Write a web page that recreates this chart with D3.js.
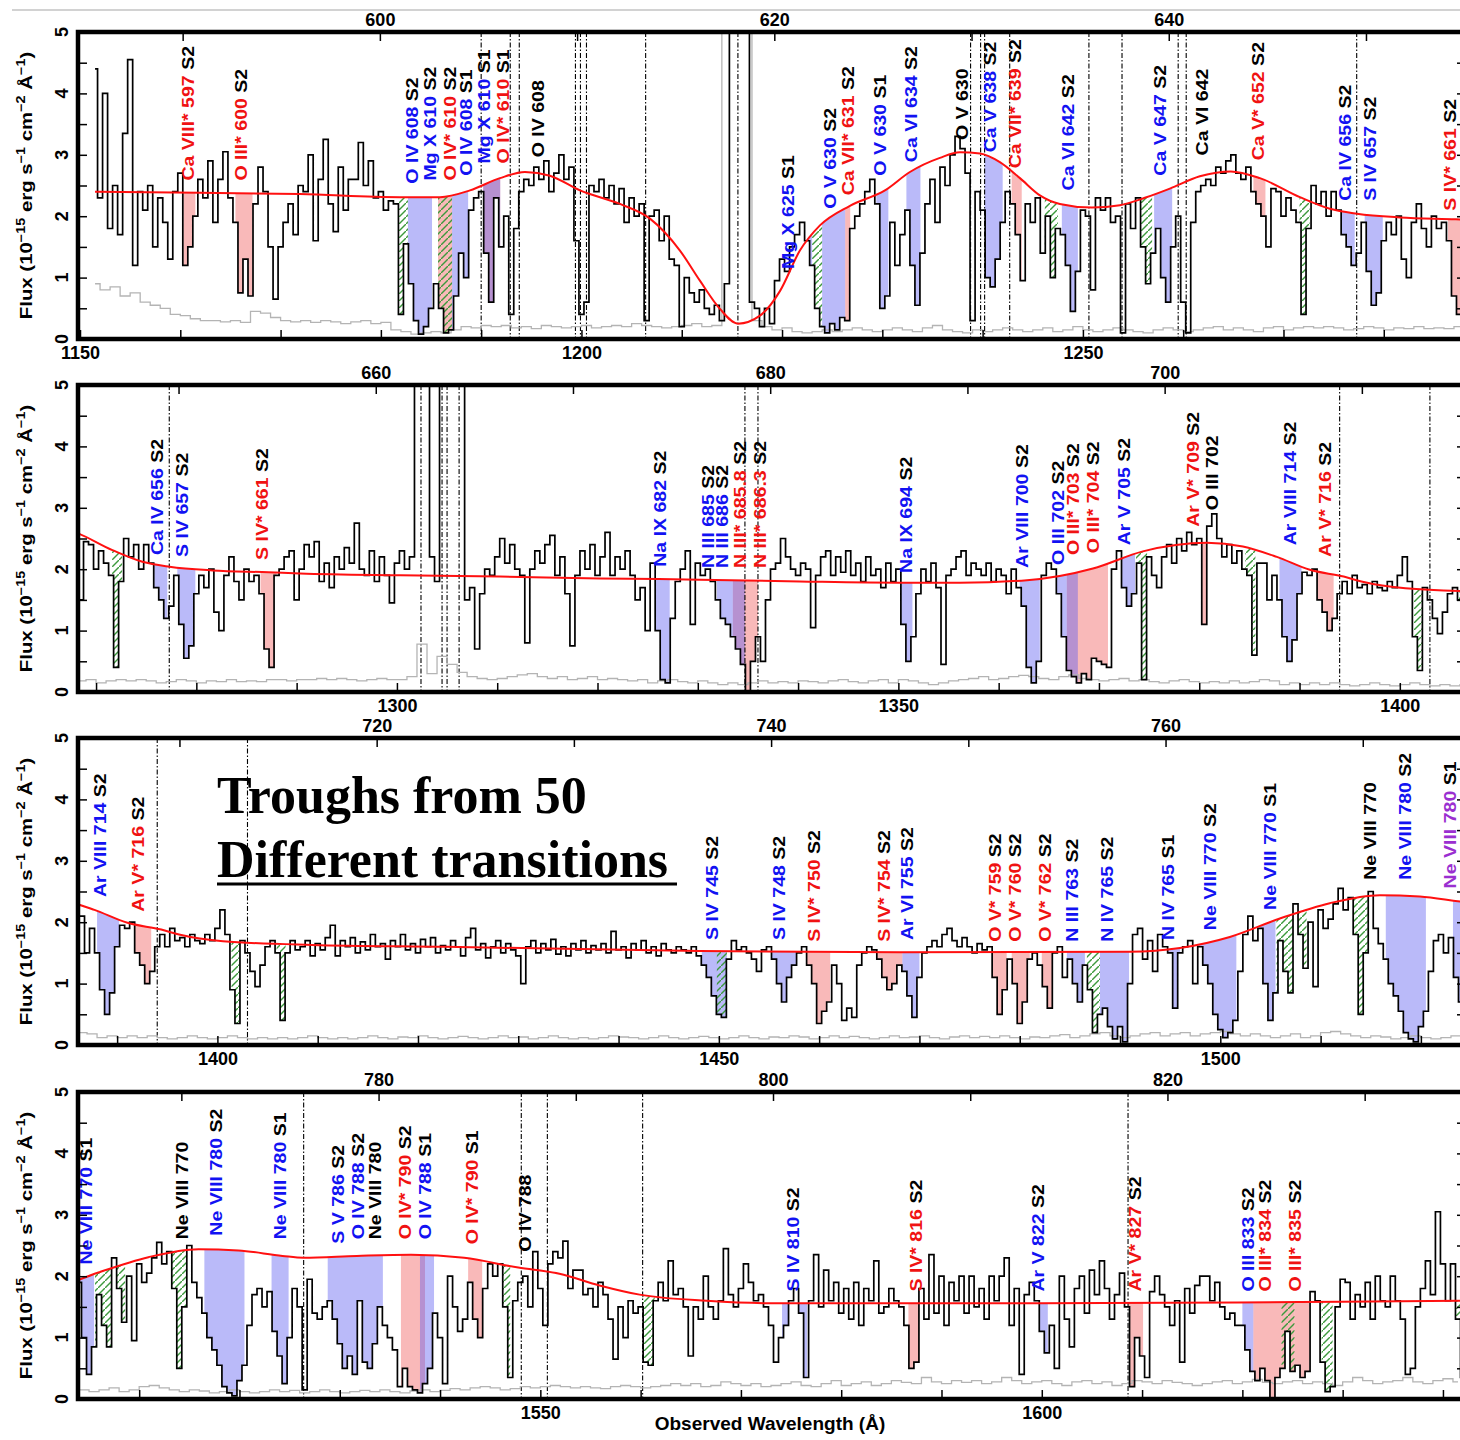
<!DOCTYPE html>
<html>
<head>
<meta charset="utf-8">
<title>Troughs from 50 different transitions</title>
<script src="https://cdn.jsdelivr.net/npm/d3@7"></script>
<style>
  body { margin: 0; background: #fff; }
  svg text { font-family: "Liberation Sans", Arial, sans-serif; }
</style>
</head>
<body>
<div id="chart"></div>
<script>
// 1+z, used for the rest-frame axis on top of each strip
const onePlusZ = 1.9665;

// observed window of the four strips (Angstrom)
const panelStart = [1149.8, 1268.2, 1386.1, 1503.9];
const panelSpan = 138;

// flux (1e-15 erg/s/cm2/A) on a 0.5 A grid from 1151.5 A
const fluxStart = 1151.5;
const fluxStep = 0.5;
const flux = [
  // strip 1
  4.4,2.3,4.0,1.8,2.5,1.7,3.35,4.55,1.2,2.4,2.1,2.5,1.5,2.3,1.9,1.3,2.4,
  2.7,1.2,1.5,2.0,2.6, 2.3,2.9,1.9,2.6,3.05,2.3, 1.9,0.75,1.3,0.7,2.2,
  2.8,2.4,1.5,0.65,1.5,1.9,2.2,1.7,2.5, 2.4,3.0,1.6,2.6,3.25,2.2,1.75,2.8,2.1,2.6,
  2.6,3.2,2.5,2.9,2.3,2.4,2.1,2.25,2.2,
  0.4,1.55,0.9,0.3,0.08,0.2,0.5,0.9,0.5,0.1,0.15,0.7,1.4,1.0,2.1,
  2.3,2.4,1.4,0.6,2.3,1.5,2.0,0.4,1.8,2.4,2.6,2.5,2.8,
  2.6,2.9,2.4,2.7,3.0,2.6,2.8,1.6,0.4,0.6,2.5,2.4,2.6,2.3,2.5,2.2,2.45,1.9,2.3,2.0,2.2,
  0.3,2.0,2.1,1.6,2.0,1.3,1.2,0.2,1.0,0.75,0.6,0.8,0.5,0.4,0.55,0.3,0.9,9,9,
  9,9,0.6,0.5,0.2,0.5,0.25,0.95,1.3,1.1,1.5,1.7,
  1.9,1.6,1.2,0.5,0.2,0.1,0.25,0.15,0.35,0.3,1.8,
  2.0,2.2,2.4,2.6,2.2,0.5,0.7,1.9,1.2,1.7,
  2.1,1.2,0.55,1.4,2.2,2.6,1.9,2.8,2.5,3.0,
  3.3,3.1,2.7,0.3,2.4,2.1,1.0,0.85,1.3,1.9,
  2.4,2.2,1.7,0.95,2.2,1.9,2.3,1.4,2.0,1.0,
  1.8,1.7,1.2,0.45,1.1,2.1,2.0,0.8,2.3,2.1,
  2.3,1.9,2.0,0.1,2.2,1.8,2.3,1.5,0.9,1.4,
  1.8,1.0,0.6,1.5,2.0,0.6,0.1,1.9,2.4,2.5,
  2.6,2.5,2.8,2.7,2.9,3.0,2.7,2.6,2.8,2.4,
  2.2,
  // overlap of strips 1 and 2
  2.0,1.5,2.45,2.4,2.0,2.3,2.1,1.9,0.4,1.8,
  2.5,2.2,2.4,2.0,2.4,2.1,1.7,1.5,1.2,1.4,
  1.9,1.1,0.55,0.75,1.6,1.9,1.7,2.0,1.3,1.0,
  1.9,2.2,1.8,1.5,2.0,1.8,1.9,1.6,0.7,0.4,
  1.9,
  // strip 2
  2.0,2.2,2.3,1.5,2.0,2.4,2.2,2.45,1.8,2.1,
  1.7,2.2,2.0,2.35,2.1,2.75,2.0,1.9,2.3,1.8,
  2.2,1.9,1.45,2.1,2.3,2.0,2.2,9,9,9,
  2.2,1.8,9,9,9,9,9,1.5,1.7,0.7,
  1.6,2.0,1.9,2.2,
  2.5,2.1,2.4,2.0,1.9,0.8,2.0,2.3,2.1,2.4,
  2.55,1.9,2.2,1.6,0.75,1.9,2.3,2.0,2.4,1.9,
  2.2,2.6,1.9,2.2,2.0,2.3,1.9,1.5,1.7,1.0,
  2.1,1.0,0.2,0.15,1.2,1.8,2.0,2.3,1.1,2.1,
  1.9,2.0,1.8,1.5,1.2,1.1,0.9,0.7,0.45,0.02,
  0.5,0.9,0.5,1.5,2.0,2.1,2.5,2.2,2.0,1.9,
  2.1,2.0,1.05,1.9,2.2,2.3,1.9,2.2,1.95,2.3,
  1.9,2.1,1.8,2.2,1.9,2.0,1.7,2.1,1.8,2.0,
  1.1,0.5,0.9,1.6,2.0,1.8,2.1,1.7,0.45,1.9,
  2.0,2.2,2.3,1.9,2.1,2.0,1.9,2.1,1.8,2.0,
  1.9,1.6,2.0,1.7,1.4,0.4,0.15,0.5,1.9,2.1,
  2.0,1.6,0.9,0.35,0.25,0.15,0.3,0.2,0.55,0.5,
  0.45,0.4,2.0,2.3,1.7,1.4,1.6,2.1,0.2,2.2,
  1.9,1.7,2.2,2.4,2.1,2.5,2.3,2.6,2.4,2.5,
  1.1,2.7,2.9,2.5,2.2,2.4,2.1,2.3,2.0,1.9,
  0.6,2.1,
  // strip 3
  2.1,1.5,1.9,1.5,0.9,0.5,0.85,1.6,1.95,1.9,
  2.0,1.5,1.3,1.0,1.2,1.6,1.8,1.6,1.9,1.7,
  1.75,1.6,1.8,1.7,1.65,1.8,1.7,1.9,2.2,1.8,
  0.9,0.35,1.7,1.5,1.2,0.95,1.3,1.6,1.7,1.5,
  0.4,1.5,1.7,1.55,1.6,1.7,1.45,1.65,1.55,1.75,
  1.95,1.45,1.7,1.6,1.75,1.5,1.68,1.55,1.8,1.6,
  1.65,1.4,1.7,1.6,1.8,1.55,1.65,1.5,1.72,1.6,
  1.75,1.5,1.62,1.55,1.7,1.6,1.45,1.75,1.9,1.55,
  1.65,1.42,1.6,1.7,1.5,1.65,1.55,1.45,1.0,1.6,
  1.7,1.5,1.65,1.55,1.72,1.48,1.6,1.45,1.65,1.55,
  1.7,1.5,1.62,1.55,1.65,1.5,1.85,1.55,1.6,1.42,
  1.65,1.55,1.7,1.5,1.6,1.45,1.65,1.55,1.5,1.6,
  1.55,1.5,1.6,1.45,1.3,1.1,0.8,0.5,0.45,1.4,
  1.7,1.55,1.6,1.5,1.4,1.2,1.55,1.6,1.4,1.0,
  0.7,1.1,1.3,1.5,1.6,1.3,1.0,0.35,0.55,0.7,
  1.3,1.0,0.4,0.6,0.45,1.3,1.5,1.6,1.55,1.4,
  1.1,0.9,1.0,1.3,1.2,0.8,0.45,1.1,1.5,1.6,
  1.7,1.6,1.8,1.9,1.7,1.6,1.75,1.6,1.5,1.65,
  1.55,1.6,1.1,0.5,0.9,1.4,1.0,0.35,0.7,1.4,
  1.5,1.3,0.95,0.6,1.5,1.6,1.1,1.4,1.0,0.7,
  1.3,0.9,0.2,0.5,0.6,0.3,0.1,0.3,0.05,1.0,
  1.8,1.9,1.4,1.7,1.2,1.8,1.6,1.5,0.6,1.5,
  1.6,1.7,1.0,1.6,1.3,1.0,0.5,0.25,0.12,0.2,
  0.4,1.2,1.8,2.1,1.7,1.9,
  // strip 4
  1.0,0.4,0.85,1.7,1.2,0.85,2.3,1.8,1.25,2.0,
  0.95,2.2,1.9,2.05,2.3,2.55,2.2,2.4,1.8,0.5,
  1.5,2.5,1.9,1.65,1.4,1.0,0.8,0.55,0.2,0.1,
  0.05,0.3,0.55,1.2,1.7,1.8,1.5,1.75,1.1,0.7,
  0.25,1.0,1.8,1.5,0.15,1.95,1.4,1.3,1.5,1.6,
  1.3,0.9,0.5,0.7,0.4,1.6,0.6,0.5,0.9,1.5,
  1.2,1.0,0.8,0.2,0.5,0.2,0.15,0.1,0.25,0.5,
  1.4,1.0,0.25,2.0,1.5,1.1,1.3,1.9,1.3,1.0,
  1.8,2.2,2.0,2.2,1.5,0.35,1.6,1.9,2.0,1.5,
  2.4,1.8,1.2,2.2,2.4,2.3,2.57,1.8,2.1,2.1,
  1.7,1.8,1.5,1.9,1.7,1.3,0.65,1.5,1.0,1.6,
  1.4,1.5,0.6,0.55,1.6,1.9,1.6,2.25,1.7,1.8,
  1.5,0.7,1.5,1.3,2.0,1.5,1.3,1.6,2.45,1.7,
  1.5,1.8,2.2,1.9,1.6,1.7,1.5,1.2,0.6,1.0,
  1.2,1.6,1.8,1.4,0.35,1.6,2.35,1.5,2.1,1.6,
  1.9,1.4,1.8,1.3,1.9,1.2,1.8,1.6,2.25,1.4,
  1.5,1.8,1.6,1.5,1.2,0.5,0.6,1.8,1.3,2.35,
  1.4,2.0,1.2,1.9,1.6,2.0,1.4,2.0,1.5,1.8,
  1.3,2.0,1.6,2.0,2.3,1.2,1.8,0.4,1.7,1.9,
  1.6,1.1,0.75,1.2,0.5,2.0,1.3,0.85,1.8,2.0,
  1.4,2.1,1.7,2.25,1.8,1.3,1.7,2.05,1.5,0.2,
  1.0,0.7,0.35,1.75,2.0,1.7,1.5,1.2,1.6,0.6,
  1.8,1.4,1.85,2.0,2.0,1.6,1.9,1.5,1.3,1.4,
  1.2,1.2,0.8,0.45,0.3,0.5,0.3,0.0,0.35,0.5,
  1.1,0.45,0.55,0.35,0.45,1.75,1.6,0.6,0.12,0.2,
  1.5,1.95,1.9,1.3,1.7,1.5,1.9,1.3,2.0,1.6,
  1.5,2.0,1.6,1.3,0.4,0.5,1.5,1.8,2.25,1.7,
  3.05,2.2,1.6,2.2,1.3,0.35
];

// flux error on a 1 A grid from 1151.5 A
const errStart = 1151.5;
const errStep = 1;
const fluxErr = [
  0.9,0.8,0.85,0.7,0.75,0.6,0.55,0.5,0.4,0.38,
  0.33,0.3,0.3,0.28,0.3,0.27,0.45,0.42,0.35,0.3,
  0.28,0.3,0.27,0.3,0.28,0.25,0.28,0.3,0.25,0.27,
  0.15,0.12,0.08,0.1,0.12,0.1,0.15,0.2,0.18,0.22,
  0.2,0.22,0.18,0.2,0.17,0.22,0.2,0.18,0.2,0.22,
  0.18,0.2,0.22,0.2,0.25,0.22,0.2,0.18,0.2,0.22,
  0.25,0.2,0.22,9,9,9,0.3,0.2,0.15,0.18,
  0.12,0.1,0.12,0.15,0.12,0.15,0.18,0.15,0.12,0.15,
  0.18,0.15,0.12,0.18,0.22,0.15,0.12,0.1,0.15,0.12,
  0.15,0.18,0.15,0.12,0.15,0.18,0.12,0.15,0.2,0.15,
  0.12,0.15,0.18,0.15,0.12,0.1,0.15,0.18,0.15,0.12,
  0.15,0.18,0.2,0.15,0.18,0.15,0.12,
  0.18,0.2,0.15,0.18,0.2,0.18,0.2,0.18,0.15,0.17,
  0.2,0.18,0.15,0.18,0.17,0.2,0.17,0.18,0.17,0.2,
  0.2,0.18,0.2,0.2,0.22,0.2,0.22,0.2,0.18,0.2,
  0.22,0.2,0.2,
  0.25,0.78,0.3,0.58,0.45,0.32,0.25,0.22,0.2,0.22,
  0.25,0.28,0.3,0.25,0.22,0.25,0.2,0.22,0.25,0.2,
  0.22,0.2,0.18,0.2,0.15,0.18,0.2,0.17,0.15,0.18,
  0.15,0.12,0.15,0.12,0.15,0.18,0.15,0.17,0.15,0.18,
  0.17,0.15,0.18,0.2,0.17,0.15,0.18,0.2,0.15,0.2,
  0.18,0.15,0.12,0.15,0.18,0.2,0.22,0.25,0.2,0.22,
  0.25,0.27,0.25,0.22,0.2,0.25,0.28,0.22,0.2,0.18,
  0.2,0.22,0.18,0.2,0.17,0.15,0.18,0.2,0.17,0.15,
  0.17,0.15,0.18,0.15,0.17,
  0.2,0.18,0.12,0.15,0.12,0.15,0.12,0.15,0.12,0.1,
  0.12,0.15,0.12,0.1,0.12,0.15,0.12,0.1,0.12,0.1,
  0.12,0.1,0.12,0.15,0.12,0.1,0.12,0.1,0.12,0.15,
  0.12,0.1,0.13,0.12,0.15,0.12,0.1,0.12,0.14,0.12,
  0.1,0.12,0.15,0.12,0.13,0.1,0.12,0.15,0.12,0.1,
  0.12,0.1,0.12,0.15,0.13,0.12,0.1,0.12,0.15,0.12,
  0.1,0.12,0.14,0.12,0.1,0.12,0.15,0.12,0.1,0.13,
  0.12,0.15,0.13,0.1,0.12,0.15,0.12,0.14,0.12,0.1,
  0.12,0.15,0.12,0.13,0.15,0.12,0.1,0.13,0.15,0.12,
  0.14,0.12,0.15,0.12,0.1,0.13,0.12,0.15,0.17,0.12,
  0.15,0.18,0.2,0.15,0.12,0.15,0.18,0.2,0.15,0.18,
  0.2,0.15,0.18,0.2,0.22,0.18,0.15,0.18,
  0.15,0.12,0.15,0.18,0.12,0.15,0.2,0.22,0.18,0.15,
  0.12,0.15,0.13,0.1,0.12,0.15,0.12,0.1,0.12,0.15,
  0.12,0.14,0.1,0.12,0.15,0.12,0.1,0.12,0.14,0.12,
  0.15,0.12,0.1,0.13,0.15,0.12,0.14,0.17,0.15,0.18,
  0.2,0.18,0.15,0.17,0.2,0.18,0.2,0.22,0.2,0.18,
  0.2,0.18,0.17,0.2,0.22,0.2,0.18,0.2,0.22,0.25,
  0.22,0.25,0.2,0.22,0.28,0.25,0.22,0.25,0.2,0.22,
  0.25,0.28,0.22,0.2,0.25,0.3,0.22,0.25,0.28,0.22,
  0.25,0.3,0.27,0.25,0.35,0.28,0.25,0.3,0.27,0.3,
  0.25,0.28,0.35,0.3,0.25,0.28,0.3,0.25,0.22,0.28,
  0.3,0.25,0.28,0.22,0.25,0.3,0.28,0.25,0.3,0.27,
  0.25,0.22,0.25,0.28,0.3,0.25,0.28,0.32,0.27,0.25,
  0.28,0.3,0.25,0.28,0.25,0.22,0.28,0.35,0.3,0.25,
  0.28,0.3,0.35,0.28,0.25,0.3,0.33,0.28
];

// continuum knots (observed A, flux)
const contWave = [1151.5,1161.96,1171.93,1181.9,1185.89,1188.88,1191.87,1194.37,1196.86,1199.85,
  1203.84,1206.83,1209.82,1211.81,1213.81,1215.6,1217.8,1219.79,1221.78,1223.78,
  1226.77,1230.26,1232.75,1235.74,1237.74,1239.73,1241.72,1243.72,1245.71,1247.7,
  1250.9,1253.69,1256.18,1258.67,1261.66,1264.75,1267.65,1271.63,1274.62,1277.32,
  1281.6,1287.19,1290.33,1300.3,1310.27,1320.24,1330.21,1340.18,1350.15,1356.13,
  1362.82,1369.4,1374.38,1380.76,1384.35,1387.74,1391.03,1394.4,1396.17,1400.56,
  1409.43,1422.79,1448.11,1468.05,1490.98,1495.97,1500.95,1505.94,1510.92,1515.91,
  1519.9,1524.29,1526.4,1531.7,1537.1,1542.4,1547.8,1551.9,1555.9,1559.9,
  1566.6,1573.2,1599.8,1625.7,1641.9];
const contFlux = [2.4,2.38,2.36,2.31,2.31,2.42,2.62,2.72,2.66,2.42,
  2.2,1.96,1.44,0.95,0.49,0.25,0.38,0.78,1.44,1.85,
  2.17,2.42,2.72,2.95,3.04,3.02,2.88,2.62,2.34,2.2,
  2.14,2.18,2.3,2.45,2.65,2.73,2.62,2.31,2.12,2.04,
  1.98,1.95,1.93,1.9,1.88,1.85,1.83,1.8,1.78,1.78,
  1.82,2.01,2.29,2.43,2.37,2.2,1.99,1.88,1.8,1.69,
  1.63,1.6,1.53,1.51,1.52,1.58,1.76,2.06,2.31,2.44,
  2.42,2.33,2.3,2.33,2.35,2.3,2.14,2.04,1.85,1.7,
  1.6,1.56,1.56,1.58,1.6];

// dashed markers (observed A)
const markWave = [1190.0,1192.9,1193.8,1199.4,1199.9,1200.5,1206.4,1215.6,1238.8,1239.8,
  1240.2,1242.7,1250.6,1253.9,1259.5,1260.3,1277.3,1302.4,1304.5,1305.0,
  1306.2,1334.7,1336.0,1394.0,1403.0,1526.4,1548.1,1550.7,1560.2,1608.6];

// trough regions: start, end, kind (b blue, r red, g hatched, rb both, rg red+hatch)
const troughs = [
  [1160.3,1161.5,"r"],[1165.5,1167.2,"r"],[1181.8,1182.7,"g"],[1182.7,1185.1,"b"],
  [1185.7,1187.1,"rg"],[1187.1,1188.7,"b"],[1190.2,1191.9,"rb"],[1219.6,1223.0,"b"],
  [1223.0,1224.0,"g"],[1224.0,1226.3,"b"],[1226.3,1226.8,"r"],[1229.4,1230.6,"b"],
  [1232.4,1233.8,"b"],[1240.2,1242.0,"b"],[1242.9,1243.9,"r"],[1246.2,1247.5,"g"],
  [1247.9,1249.5,"b"],[1255.7,1256.9,"g"],[1257.1,1258.9,"b"],[1267.0,1268.2,"r"],
  [1271.6,1272.6,"g"],[1275.8,1277.1,"b"],[1278.1,1279.9,"b"],[1286.4,1288.0,"r"],
  [1325.6,1327.2,"b"],[1331.9,1333.5,"b"],[1333.5,1334.7,"rb"],[1334.7,1336.0,"r"],
  [1350.2,1351.4,"b"],[1362.1,1364.1,"b"],[1365.8,1366.8,"b"],[1366.8,1367.9,"rb"],
  [1367.9,1370.9,"r"],[1371.8,1373.6,"b"],[1373.7,1374.8,"g"],[1379.9,1380.8,"r"],
  [1384.6,1385.6,"g"],[1388.0,1390.2,"b"],[1391.4,1393.4,"r"],[1401.4,1402.2,"g"],
  [1405.9,1406.8,"g"],[1448.3,1450.8,"b"],[1449.8,1450.8,"g"],[1455.2,1457.8,"b"],
  [1458.6,1461.1,"r"],[1465.7,1468.3,"r"],[1468.3,1470.0,"b"],[1477.2,1478.7,"r"],
  [1479.2,1481.0,"r"],[1482.2,1483.7,"r"],[1484.7,1486.5,"b"],[1486.7,1488.0,"g"],
  [1488.0,1490.9,"b"],[1494.7,1496.0,"b"],[1497.7,1501.6,"b"],[1504.0,1505.5,"b"],
  [1505.6,1508.6,"g"],[1512.9,1514.7,"g"],[1516.5,1520.5,"b"],[1523.2,1524.9,"b"],
  [1528.8,1534.3,"b"],[1536.1,1538.0,"r"],[1538.0,1538.5,"rb"],[1538.5,1539.4,"b"],
  [1542.8,1544.2,"r"],[1546.0,1547.0,"g"],[1560.2,1561.4,"g"],[1574.1,1576.6,"b"],
  [1586.7,1588.2,"r"],[1599.1,1600.6,"b"],[1608.6,1610.1,"r"],[1620.0,1621.1,"b"],
  [1621.1,1623.9,"r"],[1623.9,1625.2,"rg"],[1625.2,1626.7,"r"],[1627.9,1629.0,"g"],
  [1641.0,1641.9,"g"]
];

// line labels per strip: observed A, ion, colour, component, height (flux units)
const labels1 = [
  [1160.8,"Ca VIII* 597","r","S2",2.58],[1166.0,"O III* 600","r","S2",2.58],
  [1183.1,"O IV 608","b","S2",2.53],[1184.9,"Mg X 610","b","S2",2.58],
  [1186.9,"O IV* 610","r","S2",2.58],[1188.5,"O IV 608","b","S1",2.66],
  [1190.3,"Mg X 610","b","S1",2.86],[1192.2,"O IV* 610","r","S1",2.86],
  [1195.7,"O IV 608","k","",2.96],[1220.6,"Mg X 625","b","S1",1.14],
  [1224.8,"O V 630","b","S2",2.12],[1226.6,"Ca VII* 631","r","S2",2.34],
  [1229.8,"O V 630","b","S1",2.66],[1232.8,"Ca VI 634","b","S2",2.88],
  [1237.9,"O V 630","k","",3.24],[1240.7,"Ca V 638","b","S2",3.04],
  [1243.2,"Ca VII* 639","r","S2",2.78],[1248.5,"Ca VI 642","b","S2",2.42],
  [1257.7,"Ca V 647","b","S2",2.66],[1261.9,"Ca VI 642","k","",2.99],
  [1267.4,"Ca V* 652","r","S2",2.91],[1276.1,"Ca IV 656","b","S2",2.25],
  [1278.6,"S IV 657","b","S2",2.25],[1286.6,"S IV* 661","r","S2",2.09]
];
const labels2 = [
  [1276.1,"Ca IV 656","b","S2",2.23],[1278.6,"S IV 657","b","S2",2.2],
  [1286.5,"S IV* 661","r","S2",2.15],[1326.2,"Na IX 682","b","S2",2.04],
  [1331.0,"N III 685","b","S2",2.02],[1332.4,"N III 686","b","S2",2.02],
  [1334.2,"N III* 685.8","r","S2",2.02],[1336.2,"N III* 686.3","r","S2",2.02],
  [1350.7,"Na IX 694","b","S2",1.94],[1362.3,"Ar VIII 700","b","S2",2.02],
  [1365.9,"O III 702","b","S2",2.07],[1367.4,"O III* 703","r","S2",2.23],
  [1369.4,"O III* 704","r","S2",2.26],[1372.5,"Ar V 705","b","S2",2.39],
  [1379.4,"Ar V* 709","r","S2",2.69],[1381.3,"O III 702","k","",2.96],
  [1389.0,"Ar VIII 714","b","S2",2.39],[1392.5,"Ar V* 716","r","S2",2.2]
];
const labels3 = [
  [1388.3,"Ar VIII 714","b","S2",2.41],[1392.1,"Ar V* 716","r","S2",2.17],
  [1449.3,"S IV 745","b","S2",1.71],[1456.0,"S IV 748","b","S2",1.71],
  [1459.5,"S IV* 750","r","S2",1.68],[1466.5,"S IV* 754","r","S2",1.68],
  [1468.7,"Ar VI 755","b","S2",1.71],[1477.5,"O V* 759","r","S2",1.68],
  [1479.5,"O V* 760","r","S2",1.68],[1482.5,"O V* 762","r","S2",1.68],
  [1485.2,"N III 763","b","S2",1.68],[1488.7,"N IV 765","b","S2",1.68],
  [1494.8,"N IV 765","b","S1",1.71],[1499.0,"Ne VIII 770","b","S2",1.87],
  [1504.9,"Ne VIII 770","b","S1",2.2],[1514.9,"Ne VIII 770","k","",2.69],
  [1518.4,"Ne VIII 780","b","S2",2.69],[1522.9,"Ne VIII 780","p","S1",2.55]
];
const labels4 = [
  [1504.7,"Ne VIII 770","b","S1",2.19],[1514.3,"Ne VIII 770","k","",2.6],
  [1517.6,"Ne VIII 780","b","S2",2.66],[1524.0,"Ne VIII 780","b","S1",2.6],
  [1529.8,"S V 786","b","S2",2.53],[1531.8,"O IV 788","b","S2",2.6],
  [1533.5,"Ne VIII 780","k","",2.6],[1536.5,"O IV* 790","r","S2",2.6],
  [1538.5,"O IV 788","b","S1",2.6],[1543.2,"O IV* 790","r","S1",2.52],
  [1548.5,"O IV 788","k","",2.4],[1575.2,"S IV 810","b","S2",1.75],
  [1587.4,"S IV* 816","r","S2",1.75],[1599.6,"Ar V 822","b","S2",1.75],
  [1609.3,"Ar V* 827","r","S2",1.75],[1620.5,"O III 833","b","S2",1.75],
  [1622.2,"O III* 834","r","S2",1.75],[1625.2,"O III* 835","r","S2",1.75]
];

const width = 1460;
const height = 1440;
const left = 78;
const right = 1462;
const frameRight = 1466;
const panelTop = [32, 385, 738, 1092];
const panelH = 307;

const textColour = { b: "#1212f2", r: "#f01212", k: "#000", p: "#9a2fd0" };
const fillColour = { b: "rgba(90,90,240,0.42)", r: "rgba(240,70,70,0.38)", g: "url(#hatch)" };

const svg = d3.select("#chart").append("svg")
  .attr("width", width).attr("height", height);
svg.append("rect").attr("width", width).attr("height", height).attr("fill", "#fff");
svg.append("line").attr("x1", 12).attr("x2", width).attr("y1", 10).attr("y2", 10)
  .attr("stroke", "#d2d2d2").attr("stroke-width", 2);

const defs = svg.append("defs");
const hatch = defs.append("pattern").attr("id", "hatch")
  .attr("patternUnits", "userSpaceOnUse").attr("width", 7).attr("height", 7);
hatch.append("path").attr("d", "M-1,8 L8,-1")
  .attr("stroke", "#3d9a3d").attr("stroke-width", 1.4);

const fluxPts = flux.map((f, i) => ({ w: fluxStart + i * fluxStep, f: f }));
const errPts = fluxErr.map((f, i) => ({ w: errStart + i * errStep, f: f }));
const contPts = contWave.map((w, i) => ({ w: w, f: contFlux[i] }));
const allLabels = [labels1, labels2, labels3, labels4];

panelStart.forEach(function(lo, p) {
  const hi = lo + panelSpan;
  const top = panelTop[p];
  const bottom = top + panelH;

  const x = d3.scaleLinear().domain([lo, hi]).range([left, right]);
  const xRest = d3.scaleLinear().domain([lo / onePlusZ, hi / onePlusZ]).range([left, right]);
  const y = d3.scaleLinear().domain([0, 5]).range([bottom, top]);

  defs.append("clipPath").attr("id", "plot" + p).append("rect")
    .attr("x", left).attr("y", top).attr("width", frameRight - left).attr("height", panelH);
  defs.append("clipPath").attr("id", "cont" + p).append("path")
    .attr("d", d3.area().x(d => x(d.w)).y0(bottom + 20).y1(d => y(d.f))
      .curve(d3.curveMonotoneX)(contPts));
  defs.append("clipPath").attr("id", "flux" + p).append("path")
    .attr("d", d3.area().x(d => x(d.w)).y0(y(15)).y1(d => y(d.f))
      .curve(d3.curveStep)(fluxPts));

  const g = svg.append("g").attr("clip-path", "url(#plot" + p + ")");

  // shaded troughs, between continuum and flux
  const shade = g.append("g").attr("clip-path", "url(#cont" + p + ")")
    .append("g").attr("clip-path", "url(#flux" + p + ")");
  troughs.filter(t => t[1] > lo && t[0] < hi).forEach(function(t) {
    t[2].split("").forEach(function(k) {
      shade.append("rect")
        .attr("x", x(t[0])).attr("width", x(t[1]) - x(t[0]))
        .attr("y", top).attr("height", panelH)
        .attr("fill", fillColour[k]);
    });
  });

  g.selectAll(".mark").data(markWave.filter(w => w > lo && w < hi)).join("line")
    .attr("class", "mark")
    .attr("x1", d => x(d)).attr("x2", d => x(d))
    .attr("y1", top).attr("y2", bottom)
    .attr("stroke", "#000").attr("stroke-width", 1.1)
    .attr("stroke-dasharray", "5,2,1.5,2");

  g.append("path")
    .attr("d", d3.line().x(d => x(d.w)).y(d => y(d.f)).curve(d3.curveStep)(errPts))
    .attr("fill", "none").attr("stroke", "#b4b4b4").attr("stroke-width", 1.3);

  g.append("path")
    .attr("d", d3.line().x(d => x(d.w)).y(d => y(d.f)).curve(d3.curveStep)(fluxPts))
    .attr("fill", "none").attr("stroke", "#000").attr("stroke-width", 1.7);

  g.append("path")
    .attr("d", d3.line().x(d => x(d.w)).y(d => y(d.f)).curve(d3.curveMonotoneX)(contPts))
    .attr("fill", "none").attr("stroke", "#ff1010").attr("stroke-width", 2);

  // rotated line identifications
  allLabels[p].forEach(function(l) {
    const t = g.append("text")
      .attr("transform", "translate(" + x(l[0]) + "," + y(l[4]) + ") rotate(-90) scale(1.15,1)")
      .attr("dy", "0.36em")
      .attr("font-size", 17).attr("font-weight", "bold");
    t.append("tspan").attr("fill", textColour[l[2]]).text(l[1]);
    if (l[3]) t.append("tspan").attr("fill", "#000").text("\u00a0" + l[3]);
  });

  // axes
  const styleAxis = function(a) {
    a.select(".domain").remove();
    a.selectAll("line").attr("stroke", "#000").attr("stroke-width", 1.5);
    a.attr("font-size", 18).attr("font-weight", "bold")
      .attr("font-family", "'Liberation Sans', Arial, sans-serif");
  };

  const obsTicks = d3.range(Math.ceil(lo / 10) * 10, hi, 10);
  svg.append("g").attr("transform", "translate(0," + bottom + ")")
    .call(d3.axisBottom(x).tickValues(obsTicks).tickSizeInner(-9).tickSizeOuter(0)
      .tickPadding(7).tickFormat(d => d % 50 === 0 ? d : ""))
    .call(styleAxis);

  const restTicks = d3.range(Math.ceil(lo / onePlusZ / 10) * 10, hi / onePlusZ, 10);
  svg.append("g").attr("transform", "translate(0," + top + ")")
    .call(d3.axisTop(xRest).tickValues(restTicks).tickSizeInner(-9).tickSizeOuter(0)
      .tickPadding(6).tickFormat(d => d % 20 === 0 ? d : ""))
    .call(styleAxis);

  const fluxTicks = d3.range(0, 5.01, 0.5);
  svg.append("g").attr("transform", "translate(" + left + ",0)")
    .call(d3.axisLeft(y).tickValues(fluxTicks).tickSizeInner(-9).tickSizeOuter(0).tickFormat(""))
    .call(styleAxis);
  svg.append("g").attr("transform", "translate(" + frameRight + ",0)")
    .call(d3.axisRight(y).tickValues(fluxTicks).tickSizeInner(-9).tickSizeOuter(0).tickFormat(""))
    .call(styleAxis);

  svg.append("g").selectAll("text").data(d3.range(0, 6)).join("text")
    .attr("transform", d => "translate(62," + y(d) + ") rotate(-90)")
    .attr("text-anchor", "middle").attr("dy", "0.36em")
    .attr("font-size", 18).attr("font-weight", "bold")
    .text(d => d);

  const title = svg.append("text")
    .attr("transform", "translate(26," + (top + panelH / 2) + ") rotate(-90) scale(1.2,1)")
    .attr("text-anchor", "middle").attr("dy", "0.36em")
    .attr("font-size", 17).attr("font-weight", "bold");
  title.append("tspan").text("Flux (10");
  title.append("tspan").attr("dy", -7).attr("font-size", 12).text("\u221215");
  title.append("tspan").attr("dy", 7).text("\u00a0erg s");
  title.append("tspan").attr("dy", -7).attr("font-size", 12).text("\u22121");
  title.append("tspan").attr("dy", 7).text("\u00a0cm");
  title.append("tspan").attr("dy", -7).attr("font-size", 12).text("\u22122");
  title.append("tspan").attr("dy", 7).text("\u00a0\u00c5");
  title.append("tspan").attr("dy", -7).attr("font-size", 12).text("\u22121");
  title.append("tspan").attr("dy", 7).text(")");

  svg.append("rect")
    .attr("x", left).attr("y", top)
    .attr("width", frameRight - left).attr("height", panelH)
    .attr("fill", "none").attr("stroke", "#000").attr("stroke-width", 4.5);
});

svg.append("text")
  .attr("x", 770).attr("y", 1430).attr("text-anchor", "middle")
  .attr("font-size", 19).attr("font-weight", "bold")
  .text("Observed Wavelength (\u00c5)");

const note = svg.append("g")
  .attr("font-weight", "bold").attr("font-size", 52);
note.append("text").attr("x", 217).attr("y", 813)
  .style("font-family", "'Liberation Serif', 'Times New Roman', serif")
  .text("Troughs from 50");
note.append("text").attr("x", 217).attr("y", 877)
  .style("font-family", "'Liberation Serif', 'Times New Roman', serif")
  .text("Different transitions");
note.append("line").attr("x1", 217).attr("x2", 677).attr("y1", 884).attr("y2", 884)
  .attr("stroke", "#000").attr("stroke-width", 3);
</script>
</body>
</html>
